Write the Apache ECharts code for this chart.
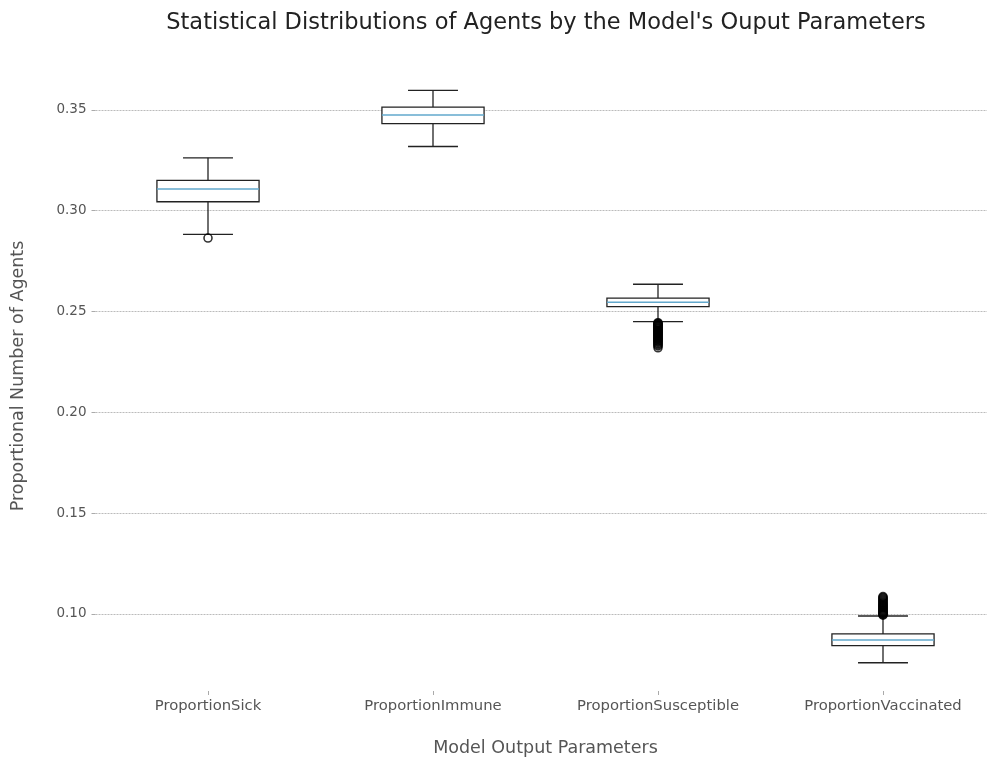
<!DOCTYPE html>
<html>
<head>
<meta charset="utf-8">
<script src="https://cdn.jsdelivr.net/npm/echarts@6/dist/echarts.min.js"></script>
<style>
  html, body { margin: 0; padding: 0; background: #fff; }
  #chart { width: 987px; height: 760px; }
</style>
</head>
<body>
<div id="chart"></div>
<script>
const categories = ['ProportionSick', 'ProportionImmune', 'ProportionSusceptible', 'ProportionVaccinated']

// [min, q1, median, q3, max] per category
const boxStats = [
    [0.2882, 0.3044, 0.3107, 0.3150, 0.3262],
    [0.3318, 0.3431, 0.3474, 0.3513, 0.3596],
    [0.2450, 0.2524, 0.2546, 0.2566, 0.2635],
    [0.0758, 0.0843, 0.0871, 0.0901, 0.0990]
]

const sickOutliers = [0.2864]
const immuneOutliers = []
const susceptibleOutliers = [0.2444, 0.2441, 0.2438, 0.2435, 0.2431, 0.2428, 0.2425, 0.2421, 0.2418, 0.2414,
    0.2411, 0.2407, 0.2404, 0.2400, 0.2397, 0.2393, 0.2390, 0.2386, 0.2382, 0.2379, 0.2375, 0.2371, 0.2367,
    0.2364, 0.2360, 0.2356, 0.2352, 0.2348, 0.2343, 0.2339, 0.2334, 0.2329, 0.2320]
const vaccinatedOutliers = [0.0994, 0.0997, 0.1000, 0.1003, 0.1006, 0.1010, 0.1013, 0.1017, 0.1020, 0.1024,
    0.1028, 0.1032, 0.1036, 0.1040, 0.1044, 0.1048, 0.1053, 0.1057, 0.1062, 0.1067, 0.1072, 0.1077, 0.1082, 0.1086]

const yTicks = [0.10, 0.15, 0.20, 0.25, 0.30, 0.35]

const outlierData = []
;[sickOutliers, immuneOutliers, susceptibleOutliers, vaccinatedOutliers].forEach((list, i) => {
    list.forEach(v => outlierData.push([i, v]))
})

function renderBox(params, api) {
    const x = api.value(0)
    const band = api.size([1, 0])[0]
    const half = band * 0.227
    const capHalf = band * 0.111
    const pMin = api.coord([x, api.value(1)])
    const pQ1 = api.coord([x, api.value(2)])
    const pMed = api.coord([x, api.value(3)])
    const pQ3 = api.coord([x, api.value(4)])
    const pMax = api.coord([x, api.value(5)])
    const cx = pMed[0]
    const lineStyle = { stroke: '#222', lineWidth: 1.3, fill: null }
    return {
        type: 'group',
        children: [
            { type: 'line', shape: { x1: cx, y1: pQ3[1], x2: cx, y2: pMax[1] }, style: lineStyle },
            { type: 'line', shape: { x1: cx, y1: pQ1[1], x2: cx, y2: pMin[1] }, style: lineStyle },
            { type: 'line', shape: { x1: cx - capHalf, y1: pMax[1], x2: cx + capHalf, y2: pMax[1] }, style: lineStyle },
            { type: 'line', shape: { x1: cx - capHalf, y1: pMin[1], x2: cx + capHalf, y2: pMin[1] }, style: lineStyle },
            { type: 'rect', shape: { x: cx - half, y: pQ3[1], width: half * 2, height: pQ1[1] - pQ3[1] },
              style: { stroke: '#222', lineWidth: 1.3, fill: '#fff' } },
            { type: 'line', shape: { x1: cx - half, y1: pMed[1], x2: cx + half, y2: pMed[1] },
              style: { stroke: '#62a8cc', lineWidth: 1.4 } }
        ]
    }
}

const chart = echarts.init(document.getElementById('chart'))
chart.setOption({
    backgroundColor: '#fff',
    animation: false,
    textStyle: { fontFamily: 'DejaVu Sans' },
    title: {
        text: "Statistical Distributions of Agents by the Model's Ouput Parameters",
        left: 541,
        textAlign: 'center',
        top: 7,
        textStyle: { fontSize: 22.5, fontWeight: 'normal', color: '#222', fontFamily: 'DejaVu Sans' }
    },
    grid: {
        left: 95.5,
        top: 61,
        width: 900,
        height: 630,
        outerBoundsMode: 'none',
        containLabel: false
    },
    xAxis: {
        type: 'category',
        data: categories,
        name: 'Model Output Parameters',
        nameLocation: 'middle',
        nameGap: 48,
        nameTextStyle: { fontSize: 17.5, color: '#555' },
        axisLine: { show: false },
        axisTick: { show: true, alignWithLabel: true, length: 4, lineStyle: { color: '#aaa' } },
        axisLabel: { fontSize: 14.8, color: '#555', margin: 8, interval: 0 },
        splitLine: { show: false }
    },
    yAxis: {
        type: 'value',
        min: 0.0618,
        max: 0.3742,
        name: 'Proportional Number of Agents',
        nameLocation: 'middle',
        nameGap: 68,
        nameTextStyle: { fontSize: 17.5, color: '#555' },
        axisLine: { show: false },
        axisTick: { show: true, length: 4, customValues: yTicks, lineStyle: { color: '#aaa' } },
        axisLabel: { fontSize: 13.5, color: '#555', margin: 9, customValues: yTicks, formatter: v => v.toFixed(2) },
        splitLine: { show: true, lineStyle: { color: '#bbb', type: [2, 1], width: 1 } }
    },
    series: [
        {
            type: 'custom',
            renderItem: renderBox,
            encode: { x: 0, y: [1, 2, 3, 4, 5] },
            data: boxStats.map((s, i) => [i].concat(s)),
            z: 2
        },
        {
            type: 'scatter',
            data: outlierData,
            symbol: 'circle',
            symbolSize: 8,
            itemStyle: { color: 'rgba(0,0,0,0)', borderColor: '#000', borderWidth: 1.6 },
            z: 3
        }
    ]
})
</script>
</body>
</html>
